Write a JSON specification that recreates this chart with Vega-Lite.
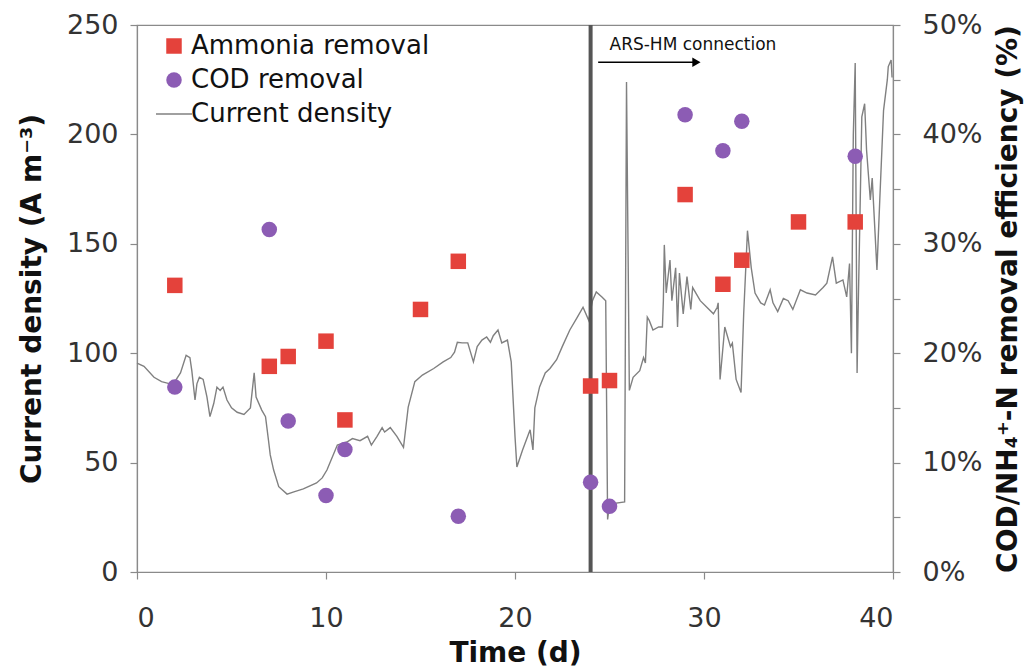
{
  "$schema": "https://vega.github.io/schema/vega-lite/v6.json",
  "autosize": "none",
  "width": 756,
  "height": 547,
  "padding": {"left": 137, "top": 25, "right": 137, "bottom": 98},
  "background": "white",
  "config": {
    "font": "DejaVu Sans",
    "view": {"stroke": "#8a8a8a", "strokeWidth": 1.2},
    "axis": {
      "grid": false,
      "domainColor": "#8a8a8a",
      "domainWidth": 1.2,
      "tickColor": "#8a8a8a",
      "tickWidth": 1.2,
      "tickSize": 7,
      "labelFont": "DejaVu Sans",
      "labelFontSize": 27,
      "labelColor": "#333333",
      "titleFont": "DejaVu Sans",
      "titleFontSize": 28,
      "titleFontWeight": "bold",
      "titleColor": "#111111"
    }
  },
  "layer": [
    {
      "layer": [
        {
          "data": {"values": [
            {"day": 0, "current": 95.5}, {"day": 0.37, "current": 94}, {"day": 0.9, "current": 89}, {"day": 1.3, "current": 87},
            {"day": 1.75, "current": 86}, {"day": 2.0, "current": 87}, {"day": 2.3, "current": 91}, {"day": 2.6, "current": 99},
            {"day": 2.8, "current": 98}, {"day": 2.9, "current": 92}, {"day": 3.07, "current": 78.6}, {"day": 3.17, "current": 86},
            {"day": 3.3, "current": 89}, {"day": 3.5, "current": 88}, {"day": 3.7, "current": 80}, {"day": 3.86, "current": 71},
            {"day": 4.06, "current": 77}, {"day": 4.23, "current": 84.5}, {"day": 4.4, "current": 83}, {"day": 4.55, "current": 84.5},
            {"day": 4.76, "current": 78.6}, {"day": 5.0, "current": 75}, {"day": 5.3, "current": 73}, {"day": 5.66, "current": 72},
            {"day": 6.0, "current": 75}, {"day": 6.2, "current": 91}, {"day": 6.3, "current": 80}, {"day": 6.6, "current": 74},
            {"day": 6.8, "current": 71}, {"day": 6.96, "current": 60}, {"day": 7.05, "current": 53.5}, {"day": 7.23, "current": 46.6},
            {"day": 7.5, "current": 39}, {"day": 7.94, "current": 35.6}, {"day": 8.3, "current": 36.6}, {"day": 8.8, "current": 38},
            {"day": 9.5, "current": 40.7}, {"day": 9.8, "current": 43}, {"day": 10.05, "current": 46.6}, {"day": 10.6, "current": 58},
            {"day": 11.1, "current": 59.4}, {"day": 11.4, "current": 61}, {"day": 11.8, "current": 60}, {"day": 12.2, "current": 62},
            {"day": 12.4, "current": 58}, {"day": 12.7, "current": 62}, {"day": 12.97, "current": 66}, {"day": 13.1, "current": 64},
            {"day": 13.4, "current": 66}, {"day": 13.75, "current": 62}, {"day": 14.1, "current": 57}, {"day": 14.35, "current": 75.4},
            {"day": 14.7, "current": 87}, {"day": 15.1, "current": 90}, {"day": 15.7, "current": 93}, {"day": 16.2, "current": 96},
            {"day": 16.6, "current": 98}, {"day": 16.8, "current": 100.5}, {"day": 16.95, "current": 105}, {"day": 17.2, "current": 104.7},
            {"day": 17.5, "current": 104.7}, {"day": 17.8, "current": 96}, {"day": 18.0, "current": 103}, {"day": 18.25, "current": 106},
            {"day": 18.5, "current": 107.4}, {"day": 18.7, "current": 105}, {"day": 18.85, "current": 108}, {"day": 19.1, "current": 110.6},
            {"day": 19.3, "current": 104.7}, {"day": 19.6, "current": 106}, {"day": 19.8, "current": 96}, {"day": 20.0, "current": 62},
            {"day": 20.1, "current": 48}, {"day": 20.4, "current": 55.8}, {"day": 20.8, "current": 65}, {"day": 20.95, "current": 55.8},
            {"day": 21.05, "current": 75}, {"day": 21.3, "current": 84.6}, {"day": 21.6, "current": 91}, {"day": 21.85, "current": 93},
            {"day": 22.2, "current": 97}, {"day": 22.5, "current": 103}, {"day": 22.9, "current": 110.6}, {"day": 23.3, "current": 116.5},
            {"day": 23.6, "current": 121}, {"day": 23.9, "current": 115}, {"day": 24.1, "current": 124}, {"day": 24.3, "current": 128},
            {"day": 24.6, "current": 125.7}, {"day": 24.8, "current": 124}, {"day": 24.9, "current": 24}, {"day": 25.0, "current": 31},
            {"day": 25.8, "current": 32}, {"day": 25.9, "current": 224}, {"day": 26.05, "current": 83}, {"day": 26.25, "current": 89},
            {"day": 26.6, "current": 92}, {"day": 26.8, "current": 98}, {"day": 26.9, "current": 95.5}, {"day": 27.0, "current": 116.5},
            {"day": 27.1, "current": 115}, {"day": 27.3, "current": 110.6}, {"day": 27.6, "current": 112}, {"day": 27.8, "current": 112},
            {"day": 27.85, "current": 124}, {"day": 27.9, "current": 149.5}, {"day": 28.0, "current": 127.5}, {"day": 28.2, "current": 142.6},
            {"day": 28.3, "current": 124}, {"day": 28.5, "current": 139}, {"day": 28.6, "current": 112}, {"day": 28.7, "current": 136.6},
            {"day": 28.9, "current": 118}, {"day": 29.1, "current": 135}, {"day": 29.3, "current": 120}, {"day": 29.4, "current": 130},
            {"day": 29.8, "current": 124}, {"day": 30.15, "current": 121}, {"day": 30.5, "current": 118}, {"day": 30.7, "current": 121},
            {"day": 30.75, "current": 123}, {"day": 30.85, "current": 88}, {"day": 31.1, "current": 112}, {"day": 31.4, "current": 103},
            {"day": 31.5, "current": 104.6}, {"day": 31.7, "current": 88}, {"day": 31.96, "current": 82}, {"day": 32.1, "current": 118},
            {"day": 32.3, "current": 156}, {"day": 32.5, "current": 139}, {"day": 32.7, "current": 127.5}, {"day": 33.0, "current": 123},
            {"day": 33.2, "current": 122}, {"day": 33.5, "current": 129}, {"day": 33.65, "current": 123}, {"day": 33.9, "current": 119},
            {"day": 34.2, "current": 125}, {"day": 34.45, "current": 124}, {"day": 34.7, "current": 120}, {"day": 35.1, "current": 129},
            {"day": 35.45, "current": 127.5}, {"day": 35.9, "current": 126.6}, {"day": 36.3, "current": 130}, {"day": 36.5, "current": 132},
            {"day": 36.8, "current": 144}, {"day": 37.0, "current": 132}, {"day": 37.35, "current": 133.5}, {"day": 37.55, "current": 125.7},
            {"day": 37.7, "current": 141}, {"day": 37.8, "current": 100}, {"day": 37.9, "current": 200}, {"day": 38.0, "current": 232.6},
            {"day": 38.1, "current": 91}, {"day": 38.15, "current": 116.5}, {"day": 38.35, "current": 208}, {"day": 38.5, "current": 214},
            {"day": 38.6, "current": 193}, {"day": 38.8, "current": 170}, {"day": 38.9, "current": 180}, {"day": 39.05, "current": 155},
            {"day": 39.15, "current": 138}, {"day": 39.3, "current": 170}, {"day": 39.5, "current": 211}, {"day": 39.7, "current": 225},
            {"day": 39.75, "current": 231}, {"day": 39.9, "current": 234}, {"day": 39.95, "current": 226}
          ]},
          "mark": {"type": "line", "strokeWidth": 1.4, "interpolate": "linear"},
          "encoding": {
            "y": {"field": "current", "type": "quantitative"},
            "color": {"datum": "Current density"}
          }
        },
        {
          "data": {"values": [{"day": 24}]},
          "mark": {"type": "rule", "color": "#555555", "strokeWidth": 4},
          "encoding": {}
        },
        {
          "data": {"values": [{"day": 24.4, "dayEnd": 29.5, "current": 233}]},
          "mark": {"type": "rule", "color": "#000000", "strokeWidth": 1.5},
          "encoding": {
            "x2": {"field": "dayEnd"},
            "y": {"field": "current", "type": "quantitative"}
          }
        },
        {
          "data": {"values": [{"day": 29.6, "current": 233}]},
          "mark": {"type": "point", "shape": "triangle-right", "filled": true, "color": "#000000", "opacity": 1, "size": 90},
          "encoding": {
            "y": {"field": "current", "type": "quantitative"}
          }
        },
        {
          "data": {"values": [{"day": 25.0, "current": 241, "label": "ARS-HM  connection"}]},
          "mark": {"type": "text", "align": "left", "baseline": "middle", "fontSize": 17, "color": "#111111", "font": "DejaVu Sans"},
          "encoding": {
            "y": {"field": "current", "type": "quantitative"},
            "text": {"field": "label"}
          }
        }
      ],
      "encoding": {
        "y": {
          "type": "quantitative",
          "scale": {"domain": [0, 250], "nice": false},
          "axis": {"values": [0, 50, 100, 150, 200, 250], "title": "Current density (A m⁻³)", "labelPadding": 12, "titlePadding": 20}
        }
      }
    },
    {
      "data": {"values": [
        {"day": 2, "series": "Ammonia removal", "eff": 0.262},
        {"day": 7, "series": "Ammonia removal", "eff": 0.188},
        {"day": 8, "series": "Ammonia removal", "eff": 0.197},
        {"day": 10, "series": "Ammonia removal", "eff": 0.211},
        {"day": 11, "series": "Ammonia removal", "eff": 0.139},
        {"day": 15, "series": "Ammonia removal", "eff": 0.240},
        {"day": 17, "series": "Ammonia removal", "eff": 0.284},
        {"day": 24, "series": "Ammonia removal", "eff": 0.170},
        {"day": 25, "series": "Ammonia removal", "eff": 0.175},
        {"day": 29, "series": "Ammonia removal", "eff": 0.345},
        {"day": 31, "series": "Ammonia removal", "eff": 0.263},
        {"day": 32, "series": "Ammonia removal", "eff": 0.285},
        {"day": 35, "series": "Ammonia removal", "eff": 0.320},
        {"day": 38, "series": "Ammonia removal", "eff": 0.320},
        {"day": 2, "series": "COD removal", "eff": 0.169},
        {"day": 7, "series": "COD removal", "eff": 0.313},
        {"day": 8, "series": "COD removal", "eff": 0.138},
        {"day": 10, "series": "COD removal", "eff": 0.070},
        {"day": 11, "series": "COD removal", "eff": 0.112},
        {"day": 17, "series": "COD removal", "eff": 0.051},
        {"day": 24, "series": "COD removal", "eff": 0.082},
        {"day": 25, "series": "COD removal", "eff": 0.060},
        {"day": 29, "series": "COD removal", "eff": 0.418},
        {"day": 31, "series": "COD removal", "eff": 0.385},
        {"day": 32, "series": "COD removal", "eff": 0.412},
        {"day": 38, "series": "COD removal", "eff": 0.380}
      ]},
      "mark": {"type": "point", "filled": true, "opacity": 1, "size": 240},
      "encoding": {
        "y": {
          "field": "eff",
          "type": "quantitative",
          "scale": {"domain": [0, 0.5], "nice": false},
          "axis": {
            "orient": "right",
            "values": [0, 0.05, 0.1, 0.15, 0.2, 0.25, 0.3, 0.35, 0.4, 0.45, 0.5],
            "labelExpr": "round(datum.value * 100) % 10 === 0 ? format(datum.value, '.0%') : ''",
            "title": "COD/NH₄⁺-N removal efficiency (%)",
            "titleAngle": 270,
            "titleBaseline": "top",
            "labelPadding": 22,
            "titlePadding": 12
          }
        },
        "color": {"field": "series", "type": "nominal"},
        "shape": {"field": "series", "type": "nominal"}
      }
    }
  ],
  "resolve": {"scale": {"y": "independent"}},
  "encoding": {
    "x": {
      "field": "day",
      "type": "quantitative",
      "scale": {"domain": [0, 40], "nice": false},
      "axis": {"values": [0, 10, 20, 30, 40], "title": "Time (d)", "labelPadding": 26, "titlePadding": 8}
    },
    "color": {
      "type": "nominal",
      "scale": {"domain": ["Ammonia removal", "COD removal", "Current density"], "range": ["#e4423b", "#8c5cb4", "#808080"]},
      "legend": {
        "title": null,
        "orient": "none",
        "legendX": 24,
        "legendY": 8,
        "padding": 0,
        "labelFontSize": 26,
        "labelFont": "DejaVu Sans",
        "labelColor": "#111111",
        "labelLimit": 0,
        "symbolSize": 240,
        "rowPadding": 8,
        "labelOffset": 4,
        "symbolOpacity": 1,
        "encode": {
          "symbols": {
            "update": {
              "size": {"signal": "datum.value === 'Current density' ? 1300 : 240"},
              "stroke": {"scale": "color", "field": "value"},
              "strokeWidth": {"signal": "datum.value === 'Current density' ? 1.4 : 0"}
            }
          }
        }
      }
    },
    "shape": {
      "type": "nominal",
      "scale": {"domain": ["Ammonia removal", "COD removal", "Current density"], "range": ["square", "circle", "stroke"]},
      "legend": {"title": null}
    }
  }
}
